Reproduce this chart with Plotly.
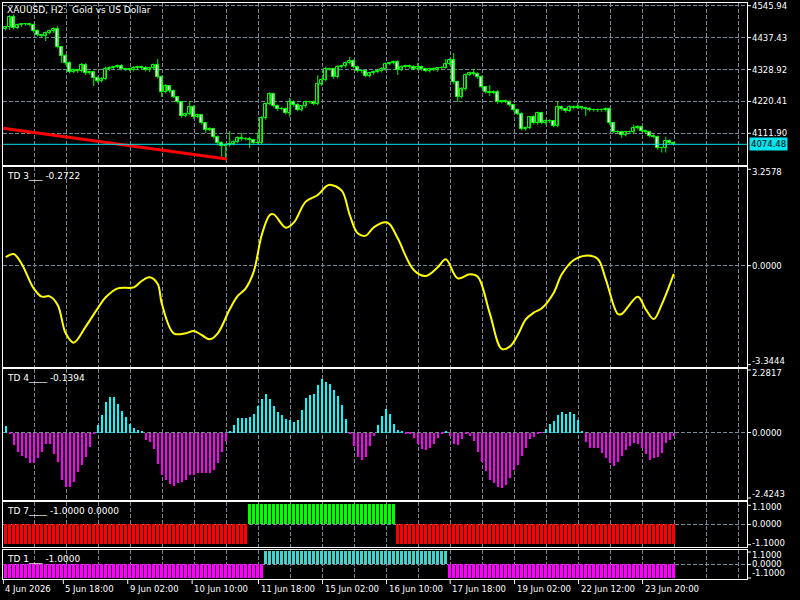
"""XAUUSD H2 chart with four TD indicator panes, MetaTrader style."""
import plotly.graph_objects as go
from plotly.subplots import make_subplots

FONT = "DejaVu Sans"
GRID = "#778899"
CANDLE = "#00FF00"
BID = "#00E5EE"

# x axis (bar index) labels
date_labels = ["4 Jun 2026", "5 Jun 18:00", "9 Jun 02:00", "10 Jun 10:00", "11 Jun 18:00",
               "15 Jun 02:00", "16 Jun 10:00", "17 Jun 18:00", "19 Jun 02:00",
               "22 Jun 12:00", "23 Jun 20:00"]
date_ticks = [-0.6, 14.4, 30.5, 46.6, 63.2, 79.2, 95.2, 111.1, 127.2, 143.2, 159.2]

# price data (open of each bar = close of the bar before)
first_open = 4466.7
closes = [
    4473.5, 4507.5, 4470.1, 4480.3, 4482.0, 4483.7, 4480.3, 4459.9, 4446.3, 4442.9,
    4453.1, 4459.9, 4466.7, 4405.5, 4374.8, 4351.0, 4320.4, 4327.2, 4323.8, 4344.2,
    4317.0, 4320.4, 4300.0, 4289.8, 4296.6, 4330.6, 4334.0, 4337.4, 4340.8, 4330.6,
    4329.5, 4327.2, 4334.0, 4337.4, 4334.0, 4327.2, 4334.0, 4344.2, 4303.4, 4252.4,
    4272.8, 4255.8, 4235.4, 4218.4, 4170.7, 4177.5, 4201.4, 4167.3, 4174.1, 4146.9,
    4123.1, 4126.5, 4099.3, 4078.9, 4068.7, 4072.1, 4075.5, 4082.3, 4095.9, 4092.5,
    4093.5, 4089.1, 4078.9, 4080.0, 4163.9, 4211.6, 4245.6, 4204.8, 4194.5, 4195.8,
    4180.9, 4218.4, 4208.2, 4191.1, 4204.8, 4218.4, 4217.0, 4211.6, 4279.6, 4293.2,
    4330.6, 4329.0, 4303.4, 4337.4, 4340.8, 4351.0, 4357.8, 4337.4, 4323.8, 4322.5,
    4306.8, 4317.0, 4320.4, 4323.8, 4330.6, 4347.6, 4351.0, 4354.4, 4327.2, 4337.4,
    4340.8, 4337.4, 4330.6, 4337.4, 4330.6, 4323.8, 4330.6, 4327.2, 4334.0, 4335.2,
    4347.6, 4361.2, 4286.4, 4235.4, 4262.6, 4310.2, 4317.0, 4313.6, 4303.4, 4269.4,
    4252.4, 4249.0, 4252.4, 4218.4, 4221.7, 4218.4, 4208.2, 4191.1, 4177.5, 4126.5,
    4129.9, 4167.3, 4146.9, 4180.9, 4146.9, 4153.7, 4152.5, 4136.7, 4201.4, 4194.5,
    4187.7, 4201.4, 4197.9, 4201.4, 4197.9, 4194.5, 4191.1, 4190.0, 4191.1, 4190.0,
    4194.5, 4146.9, 4116.3, 4115.0, 4106.1, 4116.3, 4115.0, 4129.9, 4133.3, 4119.7,
    4116.3, 4102.7, 4099.3, 4061.9, 4060.5, 4085.7, 4078.9, 4074.48,
]
wick_up = [
    4, 7, 8, 4, 5, 3, 4, 5, 6, 4, 5, 4, 6, 10, 4, 5, 6, 5, 4, 7,
    6, 5, 4, 5, 6, 8, 5, 4, 5, 6, 4, 5, 6, 4, 5, 6, 4, 5, 20, 5,
    6, 4, 5, 4, 3, 5, 20, 6, 5, 4, 3, 6, 4, 5, 6, 5, 44, 5, 6, 17,
    5, 6, 4, 34, 6, 5, 6, 4, 5, 6, 4, 14, 5, 6, 4, 5, 4, 6, 30, 5,
    8, 4, 5, 6, 4, 5, 14, 5, 4, 6, 5, 4, 5, 4, 6, 5, 4, 5, 6, 5,
    4, 5, 6, 14, 5, 4, 5, 6, 4, 5, 17, 6, 24, 5, 6, 5, 4, 14, 6, 5,
    4, 24, 5, 6, 4, 5, 6, 4, 5, 6, 5, 4, 6, 5, 4, 5, 6, 4, 20, 5,
    4, 6, 5, 14, 4, 5, 6, 4, 5, 4, 6, 5, 4, 6, 5, 4, 5, 12, 6, 4,
    5, 4, 6, 5, 4, 14, 6, 4,
]
wick_dn = [
    5, 10, 5, 4, 6, 5, 4, 6, 5, 4, 17, 5, 6, 5, 24, 6, 5, 4, 6, 5,
    7, 5, 27, 6, 5, 4, 6, 5, 4, 5, 6, 4, 5, 6, 4, 5, 6, 4, 5, 17,
    5, 6, 4, 5, 6, 4, 5, 6, 4, 5, 10, 4, 5, 6, 37, 45, 6, 5, 4, 6,
    5, 27, 6, 4, 5, 6, 4, 5, 6, 4, 5, 14, 6, 4, 5, 6, 4, 5, 4, 6,
    5, 4, 6, 5, 4, 6, 5, 4, 5, 6, 4, 5, 6, 4, 5, 6, 4, 5, 17, 4,
    5, 6, 4, 5, 6, 4, 5, 4, 6, 5, 4, 5, 6, 17, 5, 6, 4, 5, 6, 4,
    5, 10, 4, 6, 5, 4, 6, 5, 4, 5, 6, 4, 5, 6, 4, 5, 6, 4, 4, 5,
    6, 4, 5, 4, 6, 24, 5, 4, 6, 5, 4, 6, 5, 4, 10, 5, 4, 6, 5, 4,
    6, 5, 4, 6, 14, 14, 5, 4,
]
price_levels = [4111.90, 4220.41, 4328.92, 4437.43, 4545.94]
price_range = [4004.1, 4555.1]
trend_x = [-1.0, 55.25]
trend_y = [4129.4, 4024.7]

# TD 3 oscillator line
td3_bars = [0, 2, 4, 7, 9, 11, 13, 15, 17, 20, 23, 25, 28, 32, 34, 36, 38, 39, 42, 45,
            47, 49, 51, 53, 56, 58, 60, 62, 64, 66, 67, 70, 72, 75, 78, 80, 81, 84, 86, 88,
            90, 92, 95, 96, 98, 102, 105, 108, 110, 113, 116, 118, 121, 124, 126, 128, 130,
            132, 134, 137, 139, 142, 145, 148, 150, 153, 154, 158, 160, 162, 164, 167]
td3_vals = [0.277, 0.387, 0.056, -0.750, -1.026, -1.015, -1.302, -2.240, -2.549, -2.019,
            -1.412, -1.048, -0.750, -0.717, -0.507, -0.386, -0.606, -1.246, -2.240, -2.240,
            -2.163, -2.295, -2.439, -2.240, -1.445, -1.004, -0.750, -0.198, 1.016, 1.678,
            1.700, 1.259, 1.424, 2.120, 2.341, 2.616, 2.683, 2.484, 1.678, 1.071,
            0.994, 1.270, 1.436, 1.369, 0.906, -0.143, -0.341, -0.054, 0.210, -0.419,
            -0.286, -0.364, -1.578, -2.758, -2.681, -2.295, -1.776, -1.555, -1.412, -0.893,
            -0.286, 0.188, 0.332, 0.222, -0.452, -1.600, -1.600, -1.026, -1.445, -1.765,
            -1.280, -0.2722]
td3_range = [-3.3444, 3.2578]

# TD 4 histogram
td4_vals = [
    0.23, -0.07, -0.45, -0.69, -0.84, -0.93, -1.09, -1.09, -0.91, -0.69,
    -0.42, -0.42, -0.78, -1.05, -1.69, -1.95, -1.95, -1.77, -1.41, -1.15,
    -0.87, -0.51, -0.07, 0.26, 0.62, 1.10, 1.27, 1.27, 1.04, 0.77,
    0.55, 0.30, 0.17, 0.08, 0.02, -0.28, -0.34, -0.61, -1.14, -1.53,
    -1.71, -1.86, -1.92, -1.83, -1.77, -1.71, -1.53, -1.53, -1.47, -1.45,
    -1.47, -1.47, -1.35, -1.09, -0.69, -0.31, 0.05, 0.26, 0.53, 0.53,
    0.53, 0.56, 0.68, 0.95, 1.19, 1.37, 1.19, 0.95, 0.74, 0.62,
    0.50, 0.44, 0.38, 0.44, 0.80, 1.25, 1.34, 1.37, 1.70, 1.92,
    1.80, 1.76, 1.52, 1.30, 0.98, 0.50, -0.02, -0.49, -0.87, -0.99,
    -0.87, -0.49, -0.12, 0.26, 0.59, 0.84, 0.66, 0.32, 0.08, 0.02,
    -0.06, -0.06, -0.19, -0.42, -0.61, -0.63, -0.55, -0.42, -0.19, -0.04,
    0.05, -0.13, -0.42, -0.45, -0.24, -0.06, -0.12, -0.31, -0.69, -1.05,
    -1.39, -1.69, -1.83, -1.95, -2.01, -1.87, -1.63, -1.35, -1.15, -0.84,
    -0.55, -0.24, -0.16, -0.06, -0.01, 0.14, 0.30, 0.41, 0.62, 0.72,
    0.66, 0.72, 0.65, 0.44, 0.02, -0.34, -0.57, -0.57, -0.57, -0.73,
    -0.93, -1.11, -1.20, -1.05, -0.84, -0.63, -0.49, -0.36, -0.40, -0.55,
    -0.78, -0.99, -0.93, -0.87, -0.72, -0.37, -0.28, -0.1394,
]
td4_range = [-2.4243, 2.2817]

# TD 7 and TD 1 states as (value, number of bars) runs
td7_runs = [(-1.0, 61), (1.0, 37), (-1.0, 70)]
td1_runs = [(-1.0, 65), (1.0, 46), (-1.0, 57)]
state_range = [-1.1, 1.1]

pane_titles = ["XAUUSD, H2:  Gold vs US Dollar", "TD 3___ -0.2722", "TD 4____ -0.1394",
               "TD 7____ -1.0000 0.0000", "TD 1___ -1.0000"]


def expand(runs):
    out = []
    for value, count in runs:
        out += [value] * count
    return out


bars = list(range(len(closes)))
opens = [first_open] + closes[:-1]
highs = [max(o, c) + w for o, c, w in zip(opens, closes, wick_up)]
lows = [min(o, c) - w for o, c, w in zip(opens, closes, wick_dn)]
td7 = expand(td7_runs)
td1 = expand(td1_runs)

fig = make_subplots(rows=5, cols=1, shared_xaxes=True, vertical_spacing=0.004)

# candle wicks then bodies (bull = black body, bear = white body)
wx, wy = [], []
for k, lo, hi in zip(bars, lows, highs):
    wx += [k, k, None]
    wy += [lo, hi, None]
fig.add_trace(go.Scatter(x=wx, y=wy, mode="lines", line=dict(color=CANDLE, width=1),
                         hoverinfo="skip"), row=1, col=1)
body_base = [min(o, c) for o, c in zip(opens, closes)]
body_h = [max(abs(c - o), 1.2) for o, c in zip(opens, closes)]
body_fill = ["black" if c >= o else "white" for o, c in zip(opens, closes)]
fig.add_trace(go.Bar(x=bars, y=body_h, base=body_base, width=0.75,
                     marker=dict(color=body_fill, line=dict(color=CANDLE, width=1))),
              row=1, col=1)
fig.add_trace(go.Scatter(x=trend_x, y=trend_y, mode="lines",
                         line=dict(color="#FF0000", width=3)), row=1, col=1)
fig.add_hline(y=closes[-1], line=dict(color=BID, width=1), row=1, col=1)

fig.add_trace(go.Scatter(x=td3_bars, y=td3_vals, mode="lines",
                         line=dict(color="#FFFF00", width=2, shape="spline")), row=2, col=1)

fig.add_trace(go.Bar(x=bars, y=td4_vals, width=0.5,
                     marker=dict(color=["#00FFFF" if v >= 0 else "#FF00FF" for v in td4_vals],
                                 line=dict(width=0))), row=3, col=1)

fig.add_trace(go.Bar(x=bars, y=td7, width=0.75,
                     marker=dict(color=["#00FF00" if v > 0 else "#FF0000" for v in td7],
                                 line=dict(width=0))), row=4, col=1)

fig.add_trace(go.Bar(x=bars, y=td1, width=0.65,
                     marker=dict(color=["#48D1CC" if v > 0 else "#FF00FF" for v in td1],
                                 line=dict(width=0))), row=5, col=1)

fig.update_xaxes(range=[-0.675, 185.3], tickmode="linear", tick0=7.15, dtick=8,
                 showgrid=True, gridcolor=GRID, griddash="4px,2px", gridwidth=1,
                 showticklabels=False, ticks="", zeroline=False,
                 showline=True, mirror=True, linecolor="white", linewidth=1)
fig.update_yaxes(showgrid=True, gridcolor=GRID, griddash="4px,2px", gridwidth=1,
                 zeroline=False, showticklabels=False, ticks="",
                 showline=True, mirror=True, linecolor="white", linewidth=1)

domains = [[0.71875, 1.0], [0.3686, 0.7148], [0.1372, 0.3646], [0.0561, 0.1332], [0.0, 0.0503]]
ranges = [price_range, td3_range, td4_range, state_range, state_range]
grids = [price_levels, [0], [0], [0], [0]]
for i in range(5):
    name = "yaxis" if i == 0 else f"yaxis{i + 1}"
    fig.layout[name].update(domain=domains[i], range=ranges[i],
                            tickmode="array", tickvals=grids[i])

# right scale labels: (axis, value, text, text shift px, tick shift px)
scale_labels = [("y", v, f"{v:.2f}", 0, 0) for v in price_levels] + [
    ("y2", td3_range[1], f"{td3_range[1]:.4f}", -5, -2),
    ("y2", 0, "0.0000", 0, 0),
    ("y2", td3_range[0], f"{td3_range[0]:.4f}", 6, 2),
    ("y3", td4_range[1], f"{td4_range[1]:.4f}", -4, -1),
    ("y3", 0, "0.0000", 0, 0),
    ("y3", td4_range[0], f"{td4_range[0]:.4f}", 6, 2),
    ("y4", state_range[1], "1.1000", -5, -3),
    ("y4", 0, "0.0000", 0, 0),
    ("y4", state_range[0], "-1.1000", 4, 2),
    ("y5", state_range[1], "1.1000", -5, -2),
    ("y5", 0, "0.0000", 1, 0),
    ("y5", state_range[0], "-1.1000", 6, 1),
]
for ref, v, text, dy, dt in scale_labels:
    fig.add_annotation(x=1, xref="paper", xanchor="left", xshift=3, y=v, yref=ref,
                       yanchor="middle", yshift=dy, text=text, showarrow=False,
                       font=dict(family=FONT, size=8.5, color="white"))
    fig.add_shape(type="line", xref="paper", xsizemode="pixel", xanchor=1, x0=0, x1=4,
                  yref=ref, ysizemode="pixel", yanchor=v, y0=dt, y1=dt,
                  line=dict(color="white", width=1))

# current bid price tag
fig.add_annotation(x=1, xref="paper", xanchor="left", xshift=2, y=closes[-1], yref="y",
                   yanchor="middle", text=f"{closes[-1]:.2f}", showarrow=False,
                   bgcolor=BID, borderpad=1,
                   font=dict(family=FONT, size=8.5, color="black"))

# pane titles
title_refs = ["y domain", "y2 domain", "y3 domain", "y4 domain", "y5 domain"]
title_shift = [-7, -9, -9, -9, -9]
for text, ref, dy in zip(pane_titles, title_refs, title_shift):
    fig.add_annotation(x=0, xref="paper", xanchor="left", xshift=2, y=1, yref=ref,
                       yanchor="middle", yshift=dy, text=text, showarrow=False,
                       font=dict(family=FONT, size=9, color="white"))

# date labels with their tick marks
for k, text in zip(date_ticks, date_labels):
    fig.add_shape(type="line", xref="x5", x0=k, x1=k, yref="paper", ysizemode="pixel",
                  yanchor=0, y0=0, y1=-5, line=dict(color="white", width=1))
    fig.add_annotation(x=k, xref="x5", xanchor="left", xshift=0, y=0, yref="paper",
                       yanchor="middle", yshift=-9.5, text=text, showarrow=False,
                       font=dict(family=FONT, size=8.5, color="white"))

fig.update_layout(
    width=800, height=600,
    margin=dict(l=3, r=53, t=3, b=21),
    paper_bgcolor="black", plot_bgcolor="black",
    showlegend=False, barmode="overlay", bargap=0,
    font=dict(family=FONT, size=9, color="white"),
)

fig.write_html("out.html",
               config={"displayModeBar": False},
               post_script="document.body.style.margin='0';"
                           "document.body.style.overflow='hidden';"
                           "document.body.style.background='black';")
